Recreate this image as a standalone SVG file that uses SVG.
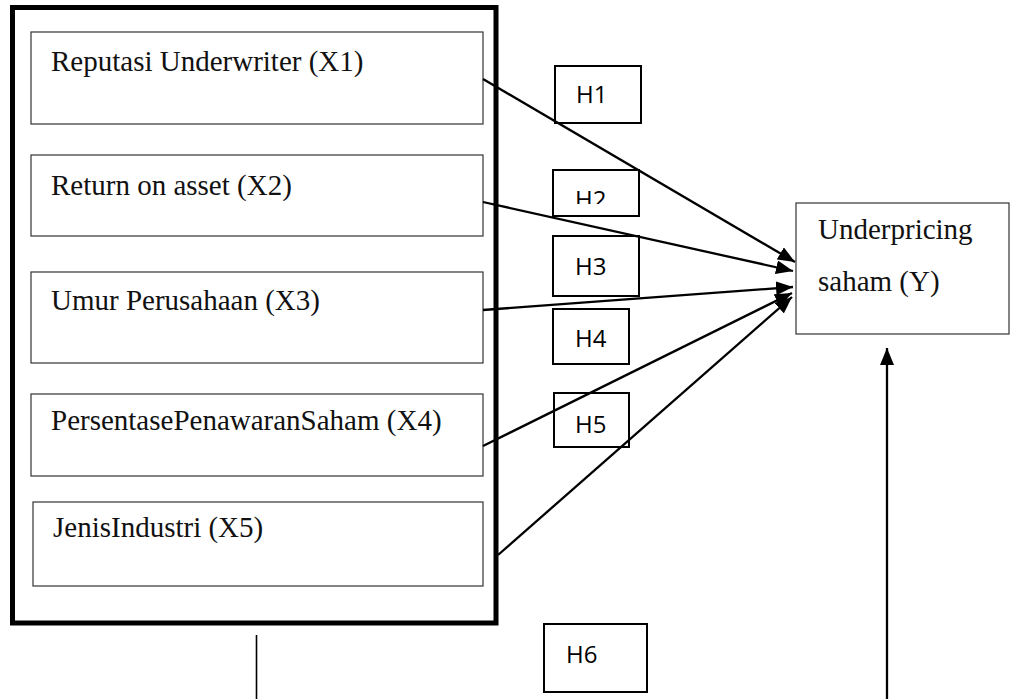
<svg xmlns="http://www.w3.org/2000/svg" width="1011" height="699" viewBox="0 0 1011 699">
<style>
.bg{fill:#fff}
.var{fill:#fff;stroke:#333;stroke-width:1.2}
.outer{fill:none;stroke:#000;stroke-width:5}
.hbox{fill:none;stroke:#000;stroke-width:2}
.t{font-family:"Liberation Serif","Times New Roman",serif;font-size:29px;fill:#111}
.h{font-family:"Open Sans","DejaVu Sans",sans-serif;font-size:24px;fill:#000}
.arr{fill:none;stroke:#000;stroke-width:2.3;marker-end:url(#ah)}
.ln{fill:none;stroke:#000;stroke-width:1.6}
</style>
<defs>
<marker id="ah" markerUnits="userSpaceOnUse" markerWidth="18" markerHeight="14" refX="17" refY="7" orient="auto">
<path d="M0,0 L17,7 L0,14 z" fill="#000"/>
</marker>
<clipPath id="clipH2"><rect x="553" y="170" width="86" height="34"/></clipPath>
</defs>
<rect class="bg" x="0" y="0" width="1011" height="699"/>
<g id="outer-group"><rect class="outer" x="12.5" y="7.5" width="483.5" height="615.5"/></g>
<g id="x1"><rect class="var" x="31" y="32" width="452" height="92"/><text class="t" x="51" y="71">Reputasi Underwriter (X1)</text></g>
<g id="x2"><rect class="var" x="31" y="155" width="452" height="81"/><text class="t" x="51" y="195">Return on asset (X2)</text></g>
<g id="x3"><rect class="var" x="31" y="272" width="452" height="91"/><text class="t" x="51" y="310">Umur Perusahaan (X3)</text></g>
<g id="x4"><rect class="var" x="31" y="394" width="452" height="82"/><text class="t" x="51" y="430">PersentasePenawaranSaham (X4)</text></g>
<g id="x5"><rect class="var" x="33" y="502" width="450" height="84"/><text class="t" x="53" y="537">JenisIndustri (X5)</text></g>
<g id="y"><rect class="var" x="796" y="203" width="213" height="131"/><text class="t" x="818" y="239">Underpricing</text><text class="t" x="818" y="291">saham (Y)</text></g>
<g id="h1"><rect class="hbox" x="555" y="66" width="86" height="57"/><text class="h" x="576" y="103">H1</text></g>
<g id="h2"><rect class="hbox" x="553" y="170" width="86" height="46"/><text class="h" x="575" y="208" clip-path="url(#clipH2)">H2</text></g>
<g id="h3"><rect class="hbox" x="553" y="236" width="86" height="60"/><text class="h" x="575" y="275">H3</text></g>
<g id="h4"><rect class="hbox" x="553" y="309" width="76" height="55"/><text class="h" x="575" y="347">H4</text></g>
<g id="h5"><rect class="hbox" x="554" y="393" width="75" height="54"/><text class="h" x="575" y="433">H5</text></g>
<g id="h6"><rect class="hbox" x="544" y="624" width="103" height="68"/><text class="h" x="566" y="663">H6</text></g>
<g id="connectors">
<line class="arr" x1="483" y1="79" x2="795" y2="262"/>
<line class="arr" x1="483" y1="202" x2="793" y2="271"/>
<line class="arr" x1="483" y1="310" x2="793" y2="287"/>
<line class="arr" x1="483" y1="446" x2="792" y2="293"/>
<line class="arr" x1="498" y1="555" x2="792" y2="297"/>
<line class="ln" x1="256.5" y1="635" x2="256.5" y2="699"/>
<line class="arr" x1="887" y1="699" x2="887" y2="348"/>
</g>
</svg>
